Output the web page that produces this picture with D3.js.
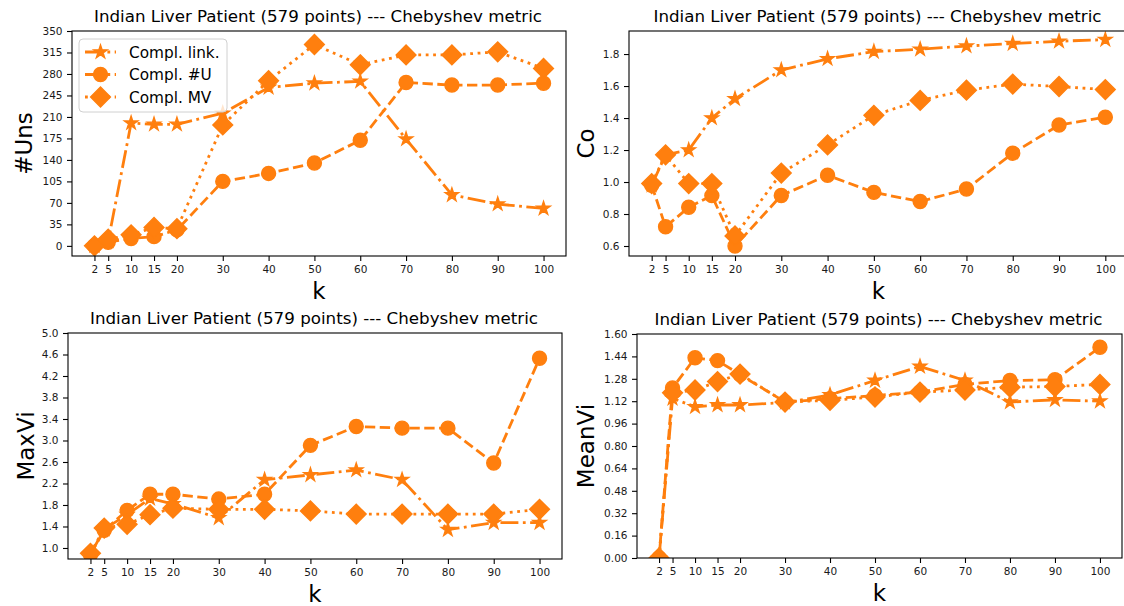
<!DOCTYPE html>
<html>
<head>
<meta charset="utf-8">
<script src="https://cdn.jsdelivr.net/npm/d3@7"></script>
<style>
  html, body { margin: 0; padding: 0; background: #fff; }
  svg { display: block; font-family: "DejaVu Sans", sans-serif; }
</style>
</head>
<body>
<svg id="chart" width="1124" height="606"></svg>
<script>
// ---------------- data ----------------
const ks = [2, 5, 10, 15, 20, 30, 40, 50, 60, 70, 80, 90, 100];
const seriesNames = ["Compl. link.", "Compl. #U", "Compl. MV"];
const titleText = "Indian Liver Patient (579 points) --- Chebyshev metric";

// #Uns
const unsLink = [0, 8, 200, 198, 198, 216, 258, 265, 268, 174, 83, 68, 61];
const unsU    = [0, 6, 12, 15, 26, 105, 118, 135, 172, 266, 262, 262, 265];
const unsMV   = [0, 11, 18, 30, 28, 197, 269, 328, 295, 311, 311, 316, 289];
const unsTicks = [0, 35, 70, 105, 140, 175, 210, 245, 280, 315, 350];

// Co
const coLink = [0.98, 1.17, 1.20, 1.40, 1.52, 1.70, 1.77, 1.815, 1.83, 1.85, 1.865, 1.88, 1.89];
const coU    = [0.98, 0.72, 0.842, 0.915, 0.60, 0.916, 1.042, 0.935, 0.878, 0.956, 1.18, 1.356, 1.405];
const coMV   = [0.99, 1.17, 0.99, 0.99, 0.663, 1.056, 1.232, 1.417, 1.51, 1.574, 1.612, 1.597, 1.578];
const coTicks = [0.6, 0.8, 1.0, 1.2, 1.4, 1.6, 1.8];

// MaxVi
const maxLink = [0.88, 1.35, 1.62, 1.92, 1.82, 1.56, 2.27, 2.36, 2.45, 2.27, 1.34, 1.47, 1.47];
const maxU    = [0.88, 1.33, 1.70, 2.0, 2.0, 1.91, 2.0, 2.91, 3.26, 3.23, 3.23, 2.58, 4.53];
const maxMV   = [0.90, 1.37, 1.44, 1.62, 1.74, 1.72, 1.72, 1.69, 1.63, 1.63, 1.63, 1.63, 1.72];
const maxTicks = [1.0, 1.4, 1.8, 2.2, 2.6, 3.0, 3.4, 3.8, 4.2, 4.6, 5.0];

// MeanVi
const meanLink = [0, 1.14, 1.08, 1.093, 1.093, 1.11, 1.165, 1.268, 1.368, 1.268, 1.114, 1.13, 1.12];
const meanU    = [0, 1.214, 1.43, 1.41, 1.31, 1.114, 1.138, 1.16, 1.185, 1.24, 1.268, 1.273, 1.505];
const meanMV   = [0, 1.18, 1.20, 1.26, 1.314, 1.114, 1.126, 1.15, 1.185, 1.20, 1.22, 1.225, 1.24];
const meanTicks = [0, 0.16, 0.32, 0.48, 0.64, 0.80, 0.96, 1.12, 1.28, 1.44, 1.60];

// ---------------- layout / style ----------------
const color = "#ff7f0e";
const LW = 2.8;
const MS = 14;          // marker size px
const MEW = 1.4;        // marker edge width
const styles = [
  { dash: `${6.4*LW} ${1.6*LW} ${1*LW} ${1.6*LW}`, marker: "star" },
  { dash: `${3.7*LW} ${1.6*LW}`, marker: "circle" },
  { dash: `${1*LW} ${1.65*LW}`, marker: "diamond" }
];

const panels = [
  { box: [72, 31, 566, 256], ydom: [-16.5, 350], ticks: unsTicks, fmt: d3.format("d"), ylabel: "#Uns", yl: 32,
    series: [unsLink, unsU, unsMV], legend: true },
  { box: [629, 31, 1128, 256], ydom: [0.5375, 1.944], ticks: coTicks, fmt: d3.format(".1f"), ylabel: "Co", yl: 594,
    series: [coLink, coU, coMV] },
  { box: [68, 333, 562, 559], ydom: [0.795, 5.0], ticks: maxTicks, fmt: d3.format(".1f"), ylabel: "MaxVi", yl: 34,
    series: [maxLink, maxU, maxMV] },
  { box: [637, 334, 1122, 558], ydom: [0, 1.6], ticks: meanTicks, fmt: d3.format(".2f"), ylabel: "MeanVi", yl: 594,
    series: [meanLink, meanU, meanMV] }
];

function markerPath(type, s) {
  const r = s / 2;
  if (type === "circle") {
    const p = d3.path(); p.moveTo(r, 0); p.arc(0, 0, r, 0, 2 * Math.PI); p.closePath(); return p.toString();
  }
  if (type === "diamond") {
    const h = r * Math.SQRT2;
    return `M0,${-h}L${h},0L0,${h}L${-h},0Z`;
  }
  const pts = [];
  for (let i = 0; i < 10; i++) {
    const rr = i % 2 === 0 ? r : r * 0.381966;
    const a = Math.PI / 2 + i * Math.PI / 5;
    pts.push([rr * Math.cos(a), -rr * Math.sin(a)]);
  }
  return "M" + pts.map(p => p[0].toFixed(2) + "," + p[1].toFixed(2)).join("L") + "Z";
}

const svg = d3.select("#chart");

panels.forEach((P, pi) => {
  const [x0, y0, x1, y1] = P.box;
  const x = d3.scaleLinear().domain([-2.9, 104.9]).range([x0, x1]);
  const y = d3.scaleLinear().domain(P.ydom).range([y1, y0]);

  const clipId = "clip" + pi;
  svg.append("clipPath").attr("id", clipId)
    .append("rect").attr("x", x0).attr("y", y0).attr("width", x1 - x0).attr("height", y1 - y0);

  const g = svg.append("g").attr("clip-path", `url(#${clipId})`);
  P.series.forEach((vals, si) => {
    const st = styles[si];
    const line = d3.line().x((d, i) => x(ks[i])).y(d => y(d));
    g.append("path").datum(vals)
      .attr("d", line)
      .attr("fill", "none")
      .attr("stroke", color)
      .attr("stroke-width", LW)
      .attr("stroke-dasharray", st.dash)
      .attr("stroke-linejoin", "round");
    g.selectAll(null).data(vals).enter().append("path")
      .attr("d", markerPath(st.marker, MS))
      .attr("transform", (d, i) => `translate(${x(ks[i])},${y(d)})`)
      .attr("fill", color)
      .attr("stroke", color)
      .attr("stroke-width", MEW)
      .attr("stroke-linejoin", "miter");
  });

  const xAxis = d3.axisBottom(x).tickValues(ks).tickSize(5).tickPadding(4.5).tickFormat(d3.format("d"));
  const gx = svg.append("g").attr("transform", `translate(0,${y1})`).call(xAxis);
  const yAxis = d3.axisLeft(y).tickValues(P.ticks).tickSize(5).tickPadding(4.5).tickFormat(P.fmt);
  const gy = svg.append("g").attr("transform", `translate(${x0},0)`).call(yAxis);
  [gx, gy].forEach(ga => {
    ga.select(".domain").remove();
    ga.selectAll(".tick line").attr("stroke", "#000").attr("stroke-width", 1.1);
    ga.selectAll(".tick text").attr("fill", "#1a1a1a").style("font-size", "10.5px").style("font-family", "DejaVu Sans");
  });

  svg.append("rect").attr("x", x0).attr("y", y0).attr("width", x1 - x0).attr("height", y1 - y0)
    .attr("fill", "none").attr("stroke", "#000").attr("stroke-width", 1.1);

  svg.append("text").attr("x", (x0 + x1) / 2 - 1).attr("y", y0 - 9)
    .attr("text-anchor", "middle").style("font-size", "16.7px").attr("fill", "#000")
    .text(titleText);

  svg.append("text").attr("x", (x0 + x1) / 2).attr("y", y1 + 43)
    .attr("text-anchor", "middle").style("font-size", "23px").attr("fill", "#000").text("k");

  svg.append("text")
    .attr("transform", `translate(${P.yl},${(y0 + y1) / 2}) rotate(-90)`)
    .attr("text-anchor", "middle").style("font-size", "23px").attr("fill", "#000").text(P.ylabel);

  if (P.legend) {
    const lg = svg.append("g");
    lg.append("rect").attr("x", 79).attr("y", 39).attr("width", 148).attr("height", 73)
      .attr("rx", 4).attr("fill", "#fff").attr("fill-opacity", 0.8)
      .attr("stroke", "#d0d0d0").attr("stroke-width", 1);
    seriesNames.forEach((name, si) => {
      const cy = 52 + si * 22.5;
      const st = styles[si];
      lg.append("line").attr("x1", 85).attr("x2", 116).attr("y1", cy).attr("y2", cy)
        .attr("stroke", color).attr("stroke-width", LW).attr("stroke-dasharray", st.dash);
      lg.append("path").attr("d", markerPath(st.marker, MS))
        .attr("transform", `translate(100.5,${cy})`)
        .attr("fill", color).attr("stroke", color).attr("stroke-width", MEW);
      lg.append("text").attr("x", 129).attr("y", cy).attr("dy", "0.36em")
        .style("font-size", "15.3px").attr("fill", "#000").text(name);
    });
  }
});
</script>
</body>
</html>
